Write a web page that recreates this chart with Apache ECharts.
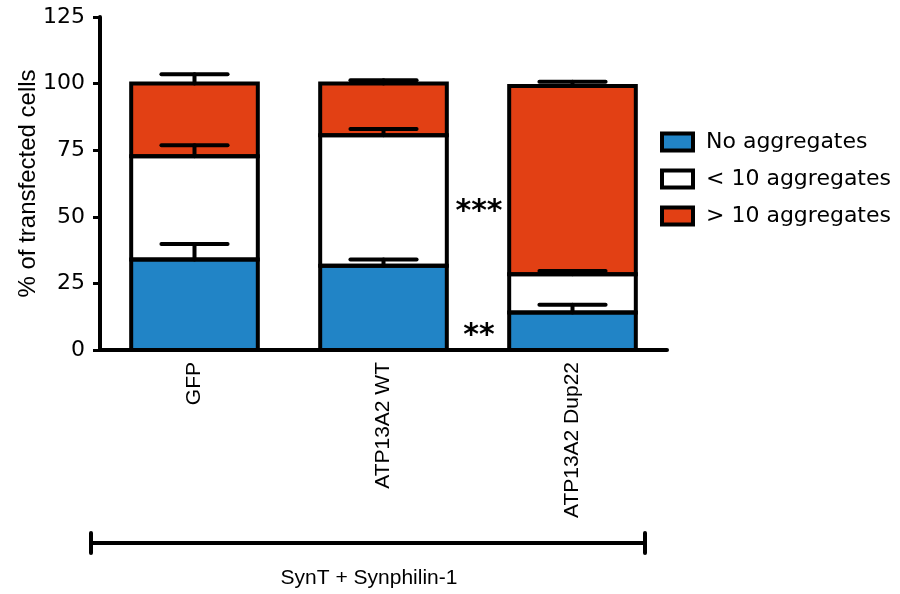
<!DOCTYPE html>
<html>
<head>
<meta charset="utf-8">
<script src="https://cdn.jsdelivr.net/npm/echarts@6/dist/echarts.min.js"></script>
<style>html,body{margin:0;padding:0;background:#fff;}#c{width:900px;height:594px;}</style>
</head>
<body>
<div id="c"></div>
<script>
const categories = ['GFP', 'ATP13A2 WT', 'ATP13A2 Dup22'];
const seriesNames = ['No aggregates', '< 10 aggregates', '> 10 aggregates'];
const noAgg = [34, 31.6, 14.1];
const lt10 = [38.7, 49, 14.3];
const gt10 = [27.3, 19.4, 70.7];
const noAggErr = [5.8, 2.4, 2.9];
const lt10Err = [4.2, 2.4, 1.3];
const gt10Err = [3.5, 1.3, 1.6];
const yTicks = [0, 25, 50, 75, 100, 125];
const groupLabel = 'SynT + Synphilin-1';
const sigLabels = [{text: '***', value: 54.7}, {text: '**', value: 8}];

const colors = ['#2184c6', '#ffffff', '#e24014'];
const segs = [noAgg, lt10, gt10];
const errs = [noAggErr, lt10Err, gt10Err];
const BAR_FRAC = 0.67;

const errData = [];
const outlineData = [];
categories.forEach((c, i) => {
  let cum = 0;
  segs.forEach((s, k) => {
    const base = cum;
    cum += s[i];
    outlineData.push([i, base, cum]);
    errData.push([i, cum, cum + errs[k][i]]);
  });
});

const chart = echarts.init(document.getElementById('c'));
const barSeries = seriesNames.map((n, k) => ({
  name: n,
  type: 'bar',
  stack: 'total',
  barWidth: (BAR_FRAC * 100) + '%',
  data: segs[k],
  itemStyle: {color: colors[k], borderWidth: 0},
  emphasis: {disabled: true},
  z: 2
}));

const option = {
  animation: false,
  backgroundColor: '#fff',
  grid: {left: 100, right: 233, top: 17, bottom: 244, containLabel: false},
  legend: {
    orient: 'vertical',
    left: 655,
    top: 126,
    itemWidth: 31,
    itemHeight: 17,
    itemGap: 15,
    icon: 'rect',
    itemStyle: {borderColor: '#000', borderWidth: 4},
    textStyle: {fontFamily: 'DejaVu Sans', fontSize: 22, color: '#000', padding: [0, 0, 0, 8]},
    data: seriesNames
  },
  xAxis: {
    type: 'category',
    data: categories,
    axisLine: {lineStyle: {color: '#000', width: 4}},
    axisTick: {alignWithLabel: true, length: 8, lineStyle: {color: '#000', width: 3}},
    axisLabel: {rotate: 90, margin: 12, fontFamily: 'Liberation Sans', fontSize: 21, color: '#000', interval: 0}
  },
  yAxis: {
    type: 'value',
    min: yTicks[0],
    max: yTicks[yTicks.length - 1],
    interval: 25,
    name: '% of transfected cells',
    nameLocation: 'middle',
    nameRotate: 90,
    nameGap: 60,
    nameMoveOverlap: false,
    nameTextStyle: {fontFamily: 'Liberation Sans', fontSize: 24, color: '#000'},
    axisLine: {show: true, lineStyle: {color: '#000', width: 4}},
    axisTick: {show: true, length: 7, lineStyle: {color: '#000', width: 3}},
    axisLabel: {margin: 15, fontFamily: 'DejaVu Sans', fontSize: 22, color: '#000'},
    splitLine: {show: false}
  },
  series: barSeries.concat([{
    type: 'custom',
    name: 'outline',
    z: 4,
    data: outlineData,
    encode: {x: 0, y: [1, 2]},
    renderItem: function (params, api) {
      const x = api.value(0);
      const p0 = api.coord([x, api.value(1)]);
      const p1 = api.coord([x, api.value(2)]);
      const w = api.size([1, 0])[0] * BAR_FRAC;
      return {
        type: 'rect',
        shape: {x: p0[0] - w / 2, y: p1[1], width: w, height: p0[1] - p1[1]},
        style: {fill: null, stroke: '#000', lineWidth: 4}
      };
    }
  }, {
    type: 'custom',
    name: 'err',
    z: 5,
    data: errData,
    encode: {x: 0, y: [1, 2]},
    renderItem: function (params, api) {
      const x = api.value(0);
      const p0 = api.coord([x, api.value(1)]);
      const p1 = api.coord([x, api.value(2)]);
      const half = api.size([1, 0])[0] * 0.175;
      const st = {stroke: '#000', lineWidth: 4, lineCap: 'round'};
      return {
        type: 'group',
        children: [
          {type: 'line', shape: {x1: p0[0], y1: p0[1], x2: p1[0], y2: p1[1]}, style: st},
          {type: 'line', shape: {x1: p1[0] - half, y1: p1[1], x2: p1[0] + half, y2: p1[1]}, style: st}
        ]
      };
    }
  }]),
  graphic: [
    {type: 'line', shape: {x1: 91, y1: 543, x2: 645, y2: 543}, style: {stroke: '#000', lineWidth: 4}},
    {type: 'line', shape: {x1: 91, y1: 533, x2: 91, y2: 553}, style: {stroke: '#000', lineWidth: 4, lineCap: 'round'}},
    {type: 'line', shape: {x1: 645, y1: 533, x2: 645, y2: 553}, style: {stroke: '#000', lineWidth: 4, lineCap: 'round'}},
    {type: 'text', style: {text: groupLabel, x: 369, y: 578, fontFamily: 'Liberation Sans', fontSize: 21, fill: '#000', textAlign: 'center', textVerticalAlign: 'middle'}}
  ]
};
chart.setOption(option);

const xa = chart.convertToPixel({xAxisIndex: 0}, categories[1]);
const xb = chart.convertToPixel({xAxisIndex: 0}, categories[2]);
const midX = (xa + xb) / 2;
chart.setOption({
  graphic: sigLabels.map((s, i) => ({
    id: 'sig' + i,
    type: 'text',
    style: {
      text: s.text,
      x: midX + 1,
      y: chart.convertToPixel({yAxisIndex: 0}, s.value) + 8,
      fontFamily: 'DejaVu Sans',
      fontWeight: 'bold',
      fontSize: 30,
      fill: '#000',
      textAlign: 'center',
      textVerticalAlign: 'middle'
    }
  }))
});
</script>
</body>
</html>
